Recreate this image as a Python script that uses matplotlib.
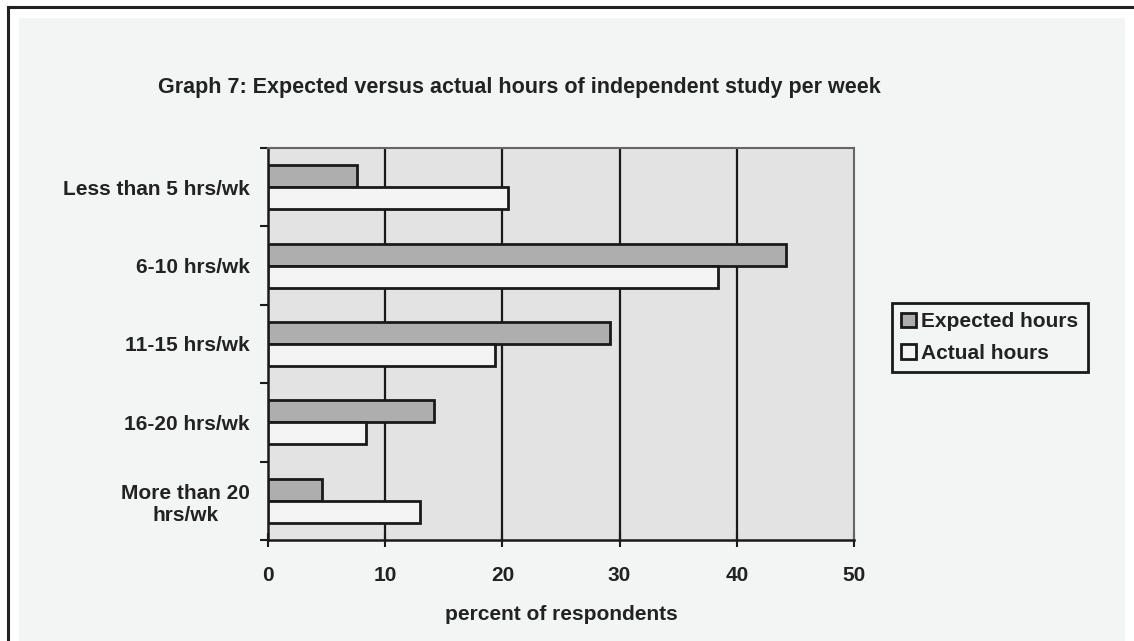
import matplotlib
matplotlib.use('Agg')
import matplotlib.pyplot as plt
from matplotlib.patches import Rectangle
from matplotlib.lines import Line2D
import numpy as np

# ── Data ──────────────────────────────────────────────────────────────────────
categories = ['Less than 5 hrs/wk', '6-10 hrs/wk', '11-15 hrs/wk',
              '16-20 hrs/wk', 'More than 20\nhrs/wk']
expected = [7.6, 44.2, 29.2, 14.2, 4.6]
actual   = [20.5, 38.4, 19.4, 8.4, 13.0]
x_ticks  = [0, 10, 20, 30, 40, 50]

TEXT = '#222222'
FONT = 'Liberation Sans'
FS   = 15

W, H = 1134, 641
fig = plt.figure(figsize=(W / 100, H / 100), dpi=100, facecolor='white')

# scanned-page background panel and frame
fig.patches.append(Rectangle((19 / W, 0), (1125 - 19) / W, 1 - 18 / H,
                             transform=fig.transFigure, facecolor='#f3f4f4',
                             edgecolor='none', zorder=-10))
fig.lines.append(Line2D([8 / W, 1], [1 - 7 / H, 1 - 7 / H], transform=fig.transFigure,
                        color='#222222', lw=2.2, zorder=-5))
fig.lines.append(Line2D([8 / W, 8 / W], [0, 1 - 7 / H], transform=fig.transFigure,
                        color='#222222', lw=2.2, zorder=-5))

ax = fig.add_axes([268 / W, 1 - 540 / H, 586 / W, 392 / H])
ax.set_facecolor('#e3e3e3')

y = np.arange(len(categories))
h = 0.28
ax.barh(y - h / 2, expected, height=h, color='#aeaeae', edgecolor='#1a1a1a',
        lw=2, label='Expected hours', zorder=3)
ax.barh(y + h / 2, actual, height=h, color='#f4f4f4', edgecolor='#1a1a1a',
        lw=2, label='Actual hours', zorder=3)

ax.set_xlim(0, 50)
ax.set_ylim(len(categories) - 0.5, -0.5)

for v in x_ticks[1:-1]:
    ax.axvline(v, color='#1a1a1a', lw=1.6, zorder=1)

ax.set_xticks(x_ticks)
ax.set_xticklabels([str(v) for v in x_ticks], fontsize=FS, fontweight='bold',
                   color=TEXT, family=FONT)
ax.tick_params(axis='x', direction='inout', length=10, width=1.5, color='#1a1a1a', pad=14)

ax.set_yticks(y)
ax.set_yticklabels(categories, fontsize=FS, fontweight='bold', color=TEXT, family=FONT)
ax.tick_params(axis='y', which='major', length=0, pad=13)
ax.set_yticks(np.arange(-0.5, len(categories)), minor=True)
ax.tick_params(axis='y', which='minor', direction='out', length=6, width=1.5, color='#1a1a1a')
ax.get_yticklabels()[-1].set_multialignment('center')

for side in ['left', 'bottom']:
    ax.spines[side].set_color('#1a1a1a')
    ax.spines[side].set_linewidth(1.8)
for side in ['top', 'right']:
    ax.spines[side].set_color('#666666')
    ax.spines[side].set_linewidth(1.5)
    ax.spines[side].set_linestyle((0, (1, 1)))

ax.set_xlabel('percent of respondents', fontsize=FS, fontweight='bold',
              color=TEXT, family=FONT, labelpad=14)

fig.text(519 / W, 1 - 88 / H,
         'Graph 7: Expected versus actual hours of independent study per week',
         ha='center', va='center', fontsize=15.5, fontweight='bold',
         color=TEXT, family=FONT)

leg = fig.legend(loc='upper left', bbox_to_anchor=(892 / W, 1 - 303 / H),
                 borderaxespad=0, frameon=True, fancybox=False,
                 handlelength=0.7, handleheight=0.7, handletextpad=0.25,
                 borderpad=0.45, labelspacing=0.6,
                 prop={'family': FONT, 'weight': 'bold', 'size': FS})
leg.get_frame().set_edgecolor('#1a1a1a')
leg.get_frame().set_linewidth(2)
leg.get_frame().set_facecolor('#f3f4f4')
leg.get_frame().set_alpha(1)
for t in leg.get_texts():
    t.set_color(TEXT)

plt.savefig('out.png', dpi=100, facecolor='white')
